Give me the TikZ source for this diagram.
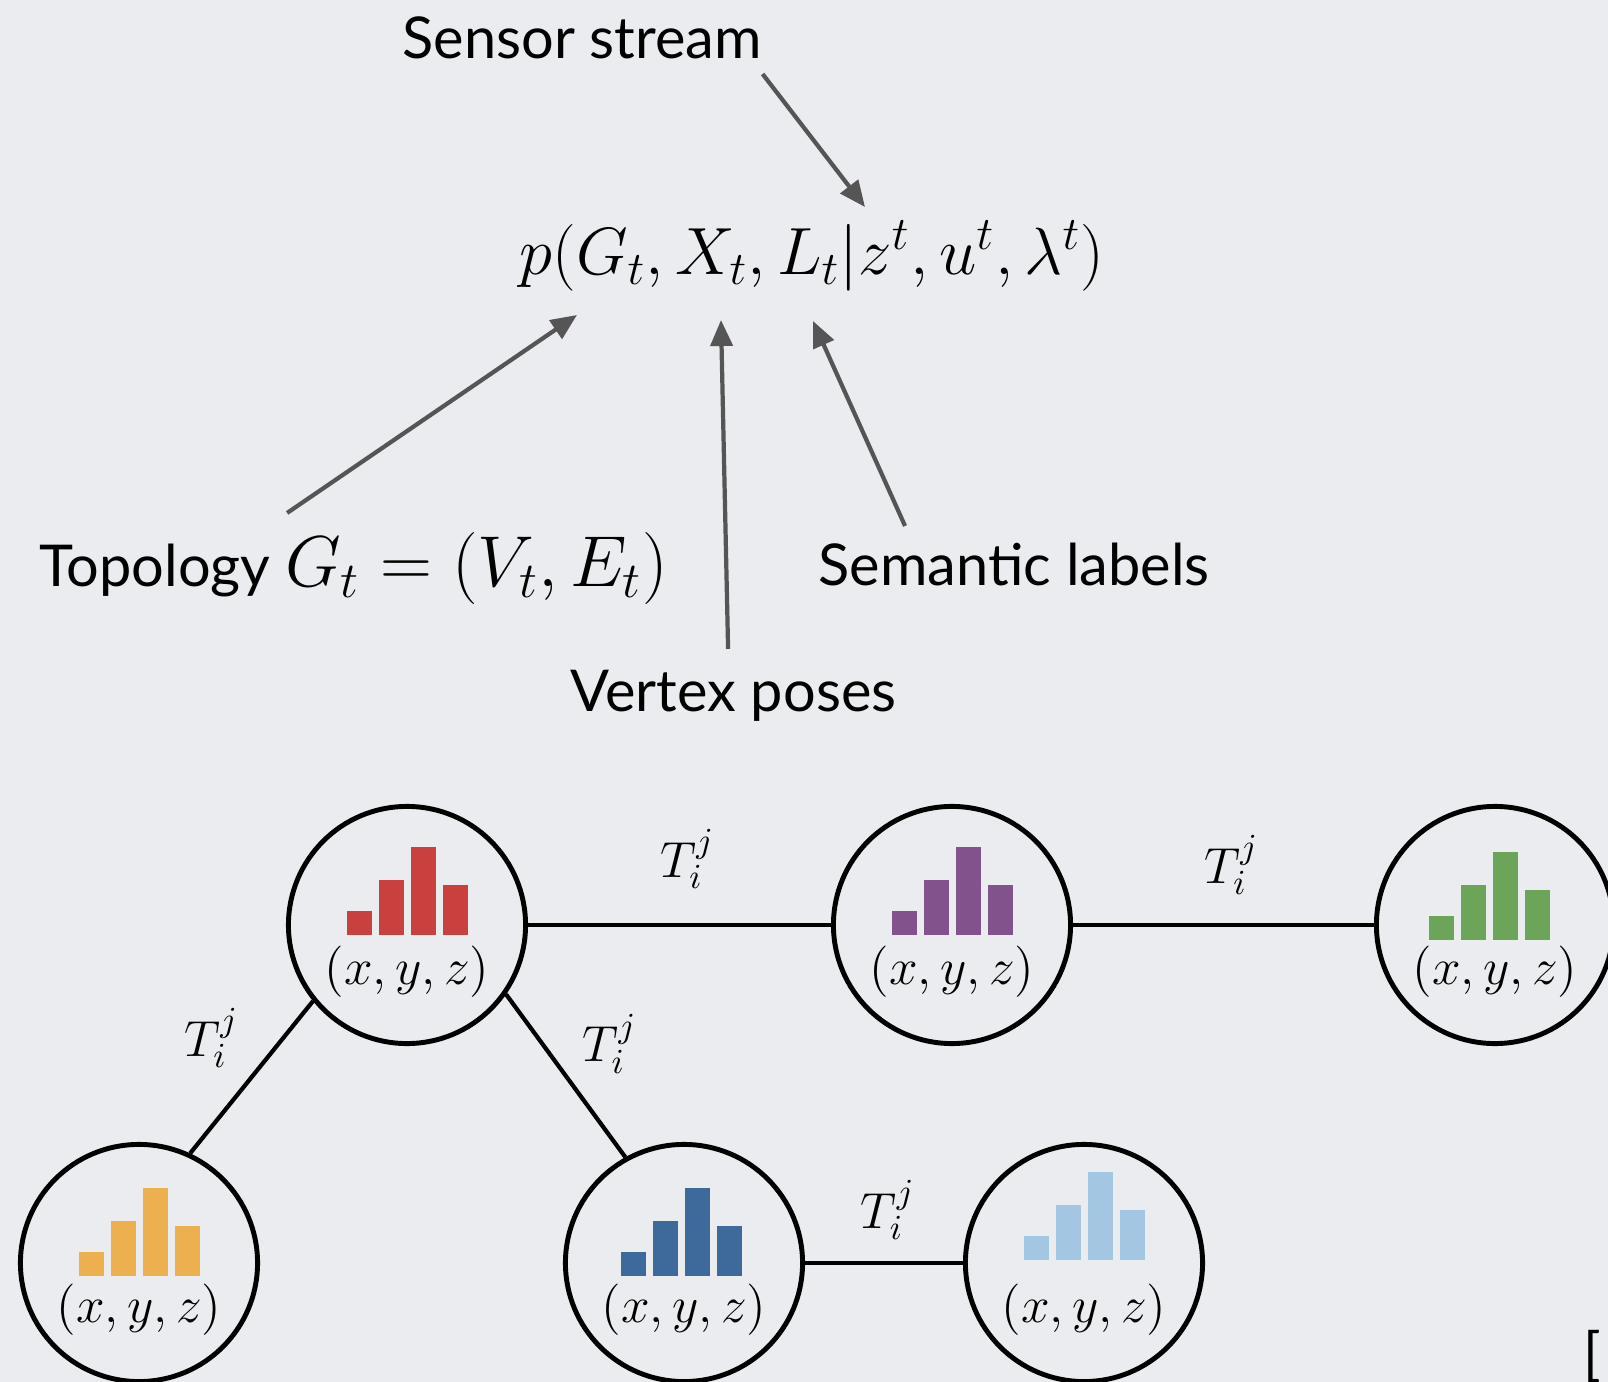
\documentclass[tikz,border=0pt]{standalone}
\usepackage{fix-cm}
\usepackage{fontspec}
\usepackage{tikz}
\usetikzlibrary{arrows.meta,positioning,calc}
\newfontfamily\labelfont{Lato}
\definecolor{bgcol}{RGB}{235,236,239}
\definecolor{arrgray}{RGB}{85,85,85}
\definecolor{barred}{RGB}{201,64,62}
\definecolor{barpurple}{RGB}{130,82,140}
\definecolor{bargreen}{RGB}{108,165,90}
\definecolor{baryellow}{RGB}{237,176,78}
\definecolor{barblue}{RGB}{61,106,155}
\definecolor{barlight}{RGB}{163,198,227}
\begin{document}
\begin{tikzpicture}[x=0.01cm,y=-0.01cm,
	lbl/.style={inner sep=0pt,font=\labelfont\fontsize{16.4}{20}\selectfont},
	formula/.style={inner sep=0pt,font=\fontsize{19}{23}\selectfont},
	vert/.style={circle,draw,line width=1.4pt,minimum size=2.37cm,inner sep=0pt},
	coordlab/.style={inner sep=0pt,font=\fontsize{14.6}{17}\selectfont},
	tlab/.style={inner sep=0pt,font=\fontsize{14.4}{17}\selectfont},
	edge/.style={line width=1.2pt},
	arr/.style={-{Triangle[length=0.26cm,width=0.22cm]},line width=1.2pt,draw=arrgray}]
\fill[bgcol] (0,0) rectangle (1608,1382);
\useasboundingbox (0,0) rectangle (1608,1382);
\node[formula] (prob) at (812,256) {$p(G_t,X_t,L_t|z^t,u^t,\lambda^t)$};
\node[lbl,anchor=base west] (sensor) at (402,59) {Sensor stream};
\node[lbl,anchor=base west] (topology) at (39,587) {Topology \fontsize{20.5}{24}\selectfont$G_t=(V_t,E_t)$};
\node[lbl,anchor=base west] (semantic) at (818,585) {Semantic labels};
\node[lbl,anchor=base west] (vertex) at (570,711) {Vertex poses};
\coordinate (tipS) at (865,207);
\coordinate (tipG) at (577,315);
\coordinate (tipX) at (721,320);
\coordinate (tipL) at (813,321);
\draw[arr] ([yshift=-0.15cm]sensor.base east) -- (tipS);
\draw[arr] ([xshift=2.48cm,yshift=0.74cm]topology.base west) -- (tipG);
\draw[arr] ([xshift=1.58cm,yshift=0.62cm]vertex.base west) -- (tipX);
\draw[arr] ([xshift=0.87cm,yshift=0.59cm]semantic.base west) -- (tipL);
\node[vert] (vred) at (407,925) {};
\node[vert] (vpurple) at (952,925) {};
\node[vert] (vgreen) at (1495,925) {};
\node[vert] (vyellow) at (139,1263) {};
\node[vert] (vblue) at (684,1263) {};
\node[vert] (vlight) at (1084,1263) {};
\draw[edge] (vred) -- node[tlab,xshift=0.08cm,yshift=0.66cm]{$T_i^j$} (vpurple);
\draw[edge] (vpurple) -- node[tlab,xshift=0.08cm,yshift=0.6cm]{$T_i^j$} (vgreen);
\draw[edge] (vred.219) -- node[tlab,xshift=-0.4cm,yshift=0.39cm]{$T_i^j$} (vyellow.65);
\draw[edge] (vred.325) -- node[tlab,xshift=0.44cm,yshift=0.32cm]{$T_i^j$} (vblue.119);
\draw[edge] (vblue) -- node[tlab,xshift=0.04cm,yshift=0.53cm]{$T_i^j$} (vlight);
\foreach \n/\c/\b/\s in {vred/barred/10/0,vpurple/barpurple/10/0,vgreen/bargreen/15/-6,vyellow/baryellow/13/0,vblue/barblue/13/-3,vlight/barlight/-3/0}{
	\foreach \h [count=\k from 0] in {24,55,88,50}
		\fill[\c] ($(\n)+({-60+32*\k+\s},\b)$) rectangle ++(25,-\h);
	\node[coordlab] (l\n) at ($(\n)+(0,47)$) {$(x,y,z)$};
}
\node[lbl,anchor=north west] (cite) at (1583,1330) {[};
\end{tikzpicture}
\end{document}
